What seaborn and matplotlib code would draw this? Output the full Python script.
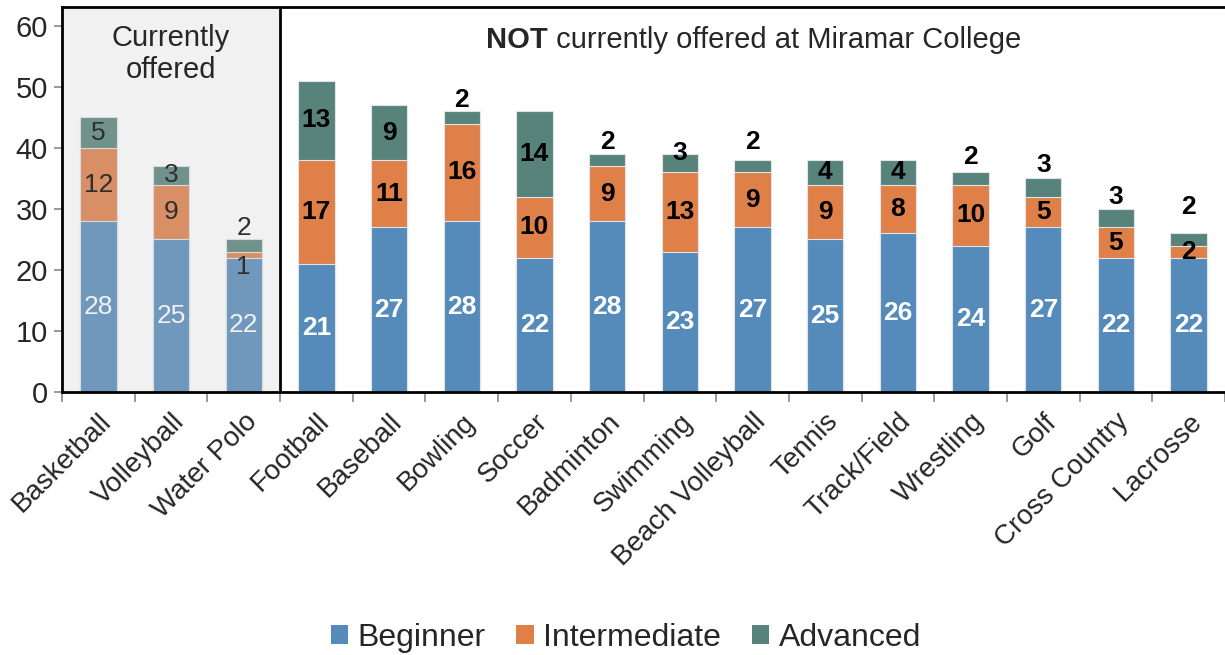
import matplotlib
matplotlib.use("Agg")
import matplotlib.pyplot as plt
from matplotlib.patches import Rectangle, Patch
import seaborn as sns
import pandas as pd
import numpy as np

# ---------------- data ----------------
sports = ["Basketball", "Volleyball", "Water Polo", "Football", "Baseball", "Bowling",
          "Soccer", "Badminton", "Swimming", "Beach Volleyball", "Tennis", "Track/Field",
          "Wrestling", "Golf", "Cross Country", "Lacrosse"]
beginner = [28, 25, 22, 21, 27, 28, 22, 28, 23, 27, 25, 26, 24, 27, 22, 22]
intermediate = [12, 9, 1, 17, 11, 16, 10, 9, 13, 9, 9, 8, 10, 5, 5, 2]
advanced = [5, 3, 2, 13, 9, 2, 14, 2, 3, 2, 4, 4, 2, 3, 3, 2]
levels = ["Beginner", "Intermediate", "Advanced"]
n_offered = 3

# label placement overrides (y in data units) for small segments
adv_label_y = {2: 26.9, 5: 47.9, 7: 41.0, 8: 39.2, 9: 41.0, 12: 38.5, 13: 37.2, 14: 32.0, 15: 30.3}
int_label_y = {2: 20.5}

colors = {"Beginner": "#558BBA", "Intermediate": "#DF8049", "Advanced": "#57837A"}

df = pd.DataFrame({"sport": sports, "Beginner": beginner,
                   "Intermediate": intermediate, "Advanced": advanced})
df["cum_b"] = df["Beginner"]
df["cum_i"] = df["Beginner"] + df["Intermediate"]
df["cum_a"] = df["cum_i"] + df["Advanced"]

sns.set_style("white")
plt.rcParams["font.family"] = ["Liberation Sans", "DejaVu Sans"]

fig = plt.figure(figsize=(12.25, 6.55), dpi=100)
ax = fig.add_axes([62 / 1225, 1 - 392 / 655, 1 - 62 / 1225, (392 - 7) / 655])

edge = "#E0E4E8"
for col, lev in [("cum_a", "Advanced"), ("cum_i", "Intermediate"), ("cum_b", "Beginner")]:
    sns.barplot(data=df, x="sport", y=col, order=sports, color=colors[lev],
                saturation=1, width=0.5, edgecolor=edge, linewidth=0.8, ax=ax, zorder=2)

ax.set_xlim(-0.5, len(sports) - 0.5)
ax.set_ylim(0, 63.1)

# data labels
for i in range(len(sports)):
    b, m, a = beginner[i], intermediate[i], advanced[i]
    offered = i < n_offered
    fw = "normal" if offered else "bold"
    ax.text(i, b / 2, str(b), ha="center", va="center", color="white",
            fontsize=19, fontweight=fw, zorder=3)
    ax.text(i, int_label_y.get(i, b + m / 2), str(m), ha="center", va="center",
            color="black", fontsize=19, fontweight=fw, zorder=3)
    ax.text(i, adv_label_y.get(i, b + m + a / 2), str(a), ha="center", va="center",
            color="black", fontsize=19, fontweight=fw, zorder=3)

# shaded "currently offered" region
ax.add_patch(Rectangle((-0.5, 0), n_offered, 63.1, facecolor="#C4C4C4", alpha=0.235,
                       edgecolor="none", zorder=4))
ax.axvline(n_offered - 0.5, color="black", lw=2, zorder=6)

ax.text((n_offered - 1) / 2, 55.4, "Currently\noffered", ha="center", va="center",
        fontsize=21, linespacing=1.2, zorder=7)
mid_x = 6.18
ax.text(mid_x, 57.7, "NOT", ha="right", va="center", fontsize=21, fontweight="bold", zorder=7)
ax.text(mid_x, 57.7, " currently offered at Miramar College", ha="left", va="center",
        fontsize=21, zorder=7)

# axes styling
for s in ["left", "top", "bottom"]:
    ax.spines[s].set_visible(True)
    ax.spines[s].set_color("black")
    ax.spines[s].set_linewidth(2)
    ax.spines[s].set_zorder(6)
ax.spines["right"].set_visible(False)

ax.set_yticks(np.arange(0, 61, 10))
ax.tick_params(axis="y", which="major", length=6, width=1.2, color="#888888",
               labelsize=21, direction="out", left=True, pad=4)
ax.set_xticks(range(len(sports)))
ax.set_xticklabels(sports, rotation=45, ha="right", rotation_mode="anchor", fontsize=20)
ax.tick_params(axis="x", which="major", length=0, pad=12, bottom=True)
ax.set_xticks(np.arange(-0.5, len(sports), 1), minor=True)
ax.tick_params(axis="x", which="minor", length=7, width=1.2, color="#888888",
               direction="out", bottom=True)
ax.set_xlabel("")
ax.set_ylabel("")
ax.grid(False)

handles = [Patch(facecolor=colors[l], edgecolor="none") for l in levels]
fig.legend(handles, levels, loc="center", bbox_to_anchor=(0.511, 0.026), ncol=3,
           frameon=False, fontsize=23, handlelength=0.55, handleheight=0.55,
           handletextpad=0.3, columnspacing=0.95)

fig.savefig("out.png", dpi=100)
